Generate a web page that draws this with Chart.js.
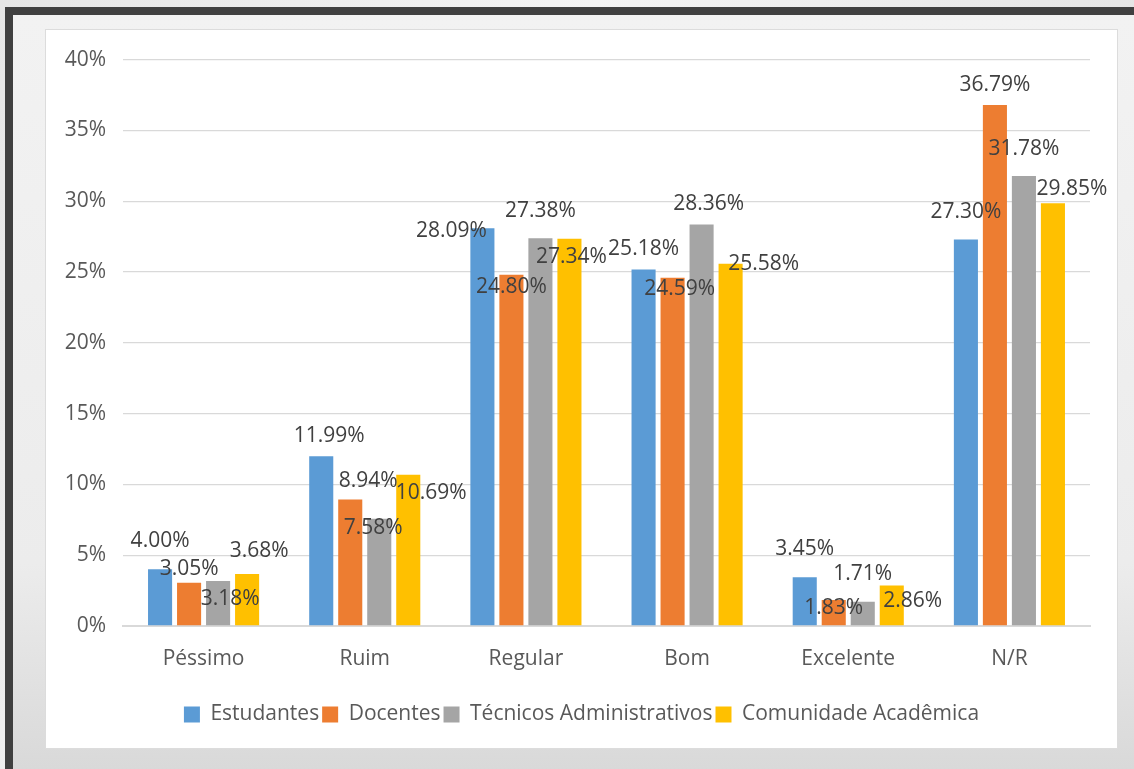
<!DOCTYPE html>
<html>
<head>
<meta charset="utf-8">
<script src="https://cdn.jsdelivr.net/npm/chart.js@4/dist/chart.umd.min.js"></script>
<style>
  html, body { margin: 0; padding: 0; }
  body {
    width: 1134px; height: 769px; overflow: hidden; position: relative;
    background: linear-gradient(115deg, #e6e6e6 0%, #f4f4f4 40%, #dcdcdc 100%);
  }
  #frame {
    position: absolute; left: 5px; top: 7px; width: 1200px; height: 800px;
    border: 8px solid #404040; box-sizing: border-box;
    background: linear-gradient(180deg, #f2f2f2 0%, #ececec 70%, #d6d6d6 100%);
  }
  #panel {
    position: absolute; left: 45px; top: 29px; width: 1073px; height: 720px;
    background: #fff; border: 1px solid #dcdcdc; box-sizing: border-box;
  }
  #panel canvas { position: absolute; left: 0; top: 0; }
</style>
</head>
<body>
<div id="frame"></div>
<div id="panel"><canvas id="chart" width="1071" height="718"></canvas></div>
<script>
var categories = ["Péssimo", "Ruim", "Regular", "Bom", "Excelente", "N/R"];
var seriesNames = ["Estudantes", "Docentes", "Técnicos Administrativos", "Comunidade Acadêmica"];
var estudantes = [4.00, 11.99, 28.09, 25.18, 3.45, 27.30];
var docentes   = [3.05, 8.94, 24.80, 24.59, 1.83, 36.79];
var tecnicos   = [3.18, 7.58, 27.38, 28.36, 1.71, 31.78];
var comunidade = [3.68, 10.69, 27.34, 25.58, 2.86, 29.85];
var yTicks = [0, 5, 10, 15, 20, 25, 30, 35, 40];

var colors = ["#5b9bd5", "#ed7d31", "#a5a5a5", "#ffc000"];

// where each value label sits, relative to the top centre of its bar (as in the original)
var labelNudge = [
  [[0, -28], [8, -20], [-31, 3], [0, -20], [0, -28], [0, -27]],
  [[0, -14], [18, -18], [0, 12], [7, 11], [0, 8], [0, -20]],
  [[12, 18], [-6, 9], [0, -27], [7, -20], [0, -28], [0, -27]],
  [[12, -23], [23, 18], [2, 18], [33, 0], [21, 16], [19, -14]]
];

var valueLabels = {
  id: "valueLabels",
  afterLayout: function(chart) {
    // centre the legend on the whole panel, not just the padded area
    chart.legend.left = 0;
    chart.legend.right = chart.width;
  },
  afterDatasetsDraw: function(chart) {
    var ctx = chart.ctx;
    ctx.save();
    ctx.font = "21px 'Open Sans'";
    ctx.fillStyle = "#404040";
    ctx.textAlign = "center";
    ctx.textBaseline = "middle";
    chart.data.datasets.forEach(function(ds, d) {
      chart.getDatasetMeta(d).data.forEach(function(bar, i) {
        var n = labelNudge[d][i];
        ctx.fillText(ds.data[i].toFixed(2) + "%", bar.x + n[0], bar.y + n[1]);
      });
    });
    ctx.restore();
  }
};

var allSeries = [estudantes, docentes, tecnicos, comunidade];
var datasets = allSeries.map(function(vals, k) {
  return {
    label: seriesNames[k],
    data: vals,
    backgroundColor: colors[k],
    categoryPercentage: 0.72,
    barPercentage: 0.83
  };
});

Chart.defaults.font.family = "'Open Sans'";
Chart.defaults.color = "#595959";

new Chart(document.getElementById("chart").getContext("2d"), {
  type: "bar",
  data: { labels: categories, datasets: datasets },
  options: {
    responsive: false,
    animation: false,
    layout: { padding: { top: 28, right: 27, bottom: 13, left: 0 } },
    plugins: {
      tooltip: { enabled: false },
      legend: {
        position: "bottom",
        labels: { boxWidth: 16, boxHeight: 16, padding: 3, font: { size: 21 }, color: "#595959" }
      }
    },
    scales: {
      x: {
        grid: { display: false, drawTicks: false },
        border: { color: "#d9d9d9", width: 2 },
        ticks: { font: { size: 21 }, padding: 20 },
        afterFit: function(s) { s.height = 75; }
      },
      y: {
        min: 0, max: 40,
        afterBuildTicks: function(s) { s.ticks = yTicks.map(function(v) { return { value: v }; }); },
        grid: { color: "#d9d9d9", lineWidth: 1.3, drawTicks: false },
        border: { display: false },
        ticks: { font: { size: 21 }, padding: 17, callback: function(v) { return v + "%"; } },
        afterFit: function(s) { s.width = 77; }
      }
    }
  },
  plugins: [valueLabels]
});
</script>
</body>
</html>
